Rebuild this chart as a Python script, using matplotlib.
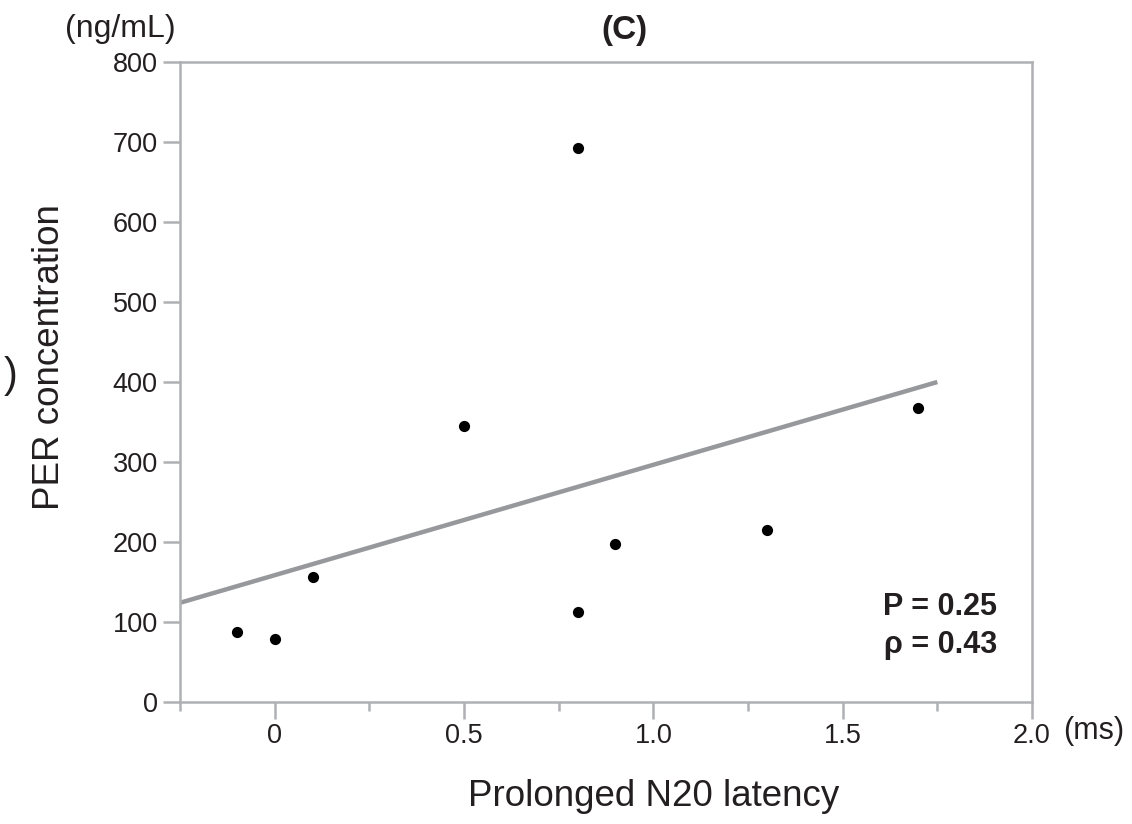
import matplotlib
matplotlib.use('Agg')
import matplotlib.pyplot as plt

plt.rcParams['font.family'] = ['Liberation Sans', 'DejaVu Sans']

# Data
latency = [-0.10, 0.00, 0.10, 0.50, 0.80, 0.80, 0.90, 1.30, 1.70]
per_conc = [88, 79, 156, 345, 692, 112, 198, 215, 367]

# Regression line as drawn (start / end)
fit_x = [-0.25, 1.75]
fit_y = [124, 400]

x_major = [0, 0.5, 1.0, 1.5, 2.0]
x_major_labels = ['0', '0.5', '1.0', '1.5', '2.0']
x_minor = [-0.25, 0.25, 0.75, 1.25, 1.75]
y_ticks = [0, 100, 200, 300, 400, 500, 600, 700, 800]

spine_col = '#aeb0b3'
line_col = '#97989b'
text_col = '#231f20'

fig = plt.figure(figsize=(11.32, 8.24), dpi=100)
ax = fig.add_axes([180 / 1132, 1 - 702 / 824, 852 / 1132, 640 / 824])

ax.plot(fit_x, fit_y, color=line_col, lw=3.2, solid_capstyle='butt', zorder=2)
ax.scatter(latency, per_conc, s=65, color='black', zorder=3, linewidths=0)

ax.set_xlim(-0.25, 2.0)
ax.set_ylim(0, 800)

for s in ax.spines.values():
    s.set_color(spine_col)
    s.set_linewidth(1.8)

ax.set_xticks(x_major)
ax.set_xticklabels(x_major_labels)
ax.set_xticks(x_minor, minor=True)
ax.set_yticks(y_ticks)
ax.tick_params(axis='both', which='major', direction='out', length=12,
               width=1.8, color=spine_col, labelsize=19.5, labelcolor=text_col)
ax.tick_params(axis='x', which='major', pad=3)
ax.tick_params(axis='y', which='major', pad=4)
ax.tick_params(axis='x', which='minor', direction='out', length=6.5,
               width=1.8, color=spine_col)

# Statistics annotation
fig.text(997 / 1132, 1 - 607 / 824, 'P = 0.25', ha='right', va='center',
         fontsize=22, fontweight='bold', color=text_col)
fig.text(997 / 1132, 1 - 645 / 824, '\u03c1 = 0.43', ha='right', va='center',
         fontsize=22, fontweight='bold', color=text_col)

# Labels
fig.text(654 / 1132, 1 - 797 / 824, 'Prolonged N20 latency', ha='center',
         va='center', fontsize=26.5, color=text_col)
fig.text(50 / 1132, 1 - 357 / 824, 'PER concentration', ha='center',
         va='center', rotation=90, fontsize=26.5, color=text_col)
fig.text(120 / 1132, 1 - 29 / 824, '(ng/mL)', ha='center', va='center',
         fontsize=23, color=text_col)
fig.text(1094 / 1132, 1 - 731 / 824, '(ms)', ha='center', va='center',
         fontsize=22, color=text_col)
fig.text(624 / 1132, 1 - 30 / 824, '(C)', ha='center', va='center',
         fontsize=24, fontweight='bold', color=text_col)
fig.text(11 / 1132, 1 - 376 / 824, ')', ha='center', va='center',
         fontsize=30, color=text_col)

fig.savefig('out.png', dpi=100)
